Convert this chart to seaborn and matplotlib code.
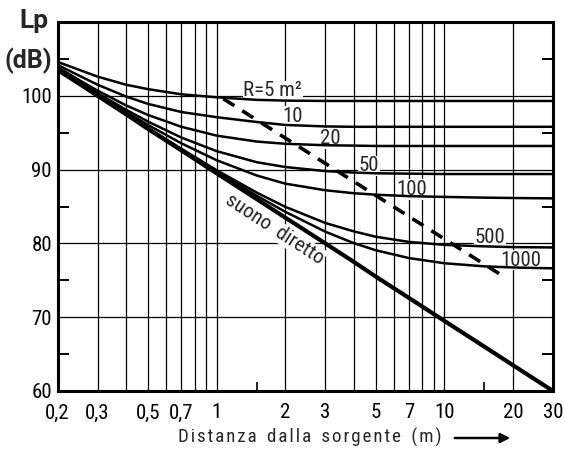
import matplotlib
matplotlib.use("Agg")
import matplotlib.pyplot as plt
from matplotlib.ticker import NullFormatter
import numpy as np
import pandas as pd
import seaborn as sns

# ---- data ----
distance_m = [0.2, 0.25, 0.3, 0.4, 0.5, 0.7, 1, 1.5, 2, 3, 4, 5, 7, 10, 15, 20, 30]
direct_db = [103.5, 101.6, 100.0, 97.5, 95.5, 92.6, 89.5, 86.0, 83.5, 80.0, 77.5, 75.5, 72.6, 69.5, 66.0, 63.5, 60.0]
r5_db = [104.6, 103.5, 102.6, 101.5, 100.9, 100.2, 99.8, 99.45, 99.35, 99.3, 99.3, 99.3, 99.3, 99.3, 99.3, 99.3, 99.3]
r10_db = [104.2, 102.7, 101.5, 99.9, 98.9, 97.8, 97.1, 96.45, 96.05, 95.85, 95.8, 95.8, 95.8, 95.8, 95.8, 95.8, 95.8]
r20_db = [103.9, 102.1, 100.7, 98.7, 97.4, 95.8, 94.6, 93.8, 93.5, 93.3, 93.25, 93.2, 93.2, 93.2, 93.2, 93.2, 93.2]
r50_db = [103.67, 101.82, 100.34, 98.12, 96.5, 94.34, 92.5, 91.0, 90.35, 89.8, 89.6, 89.5, 89.45, 89.4, 89.4, 89.4, 89.4]
r100_db = [103.59, 101.68, 100.16, 97.81, 96.04, 93.56, 91.27, 89.2, 88.1, 87.2, 86.8, 86.6, 86.4, 86.3, 86.2, 86.15, 86.1]
r500_db = [103.52, 101.57, 100.01, 97.54, 95.64, 92.82, 89.92, 86.88, 84.96, 82.77, 81.63, 80.9, 80.2, 79.8, 79.6, 79.5, 79.45]
r1000_db = [103.51, 101.56, 99.99, 97.5, 95.58, 92.72, 89.73, 86.45, 84.29, 81.59, 80.04, 79.07, 78.01, 77.31, 76.89, 76.74, 76.62]

room_constants = ["5", "10", "20", "50", "100", "500", "1000"]
curve_values = [r5_db, r10_db, r20_db, r50_db, r100_db, r500_db, r1000_db]

label_texts = ["R=5 m\u00b2", "10", "20", "50", "100", "500", "1000"]
label_r = [1.31, 1.95, 2.83, 4.2, 6.17, 13.6, 17.7]
label_lp = [100.7, 97.2, 94.2, 90.5, 87.3, 80.75, 77.7]

critical_r = [1.07, 17.6]
critical_db = [99.6, 75.8]

x_tick_values = [0.2, 0.3, 0.5, 0.7, 1, 2, 3, 5, 7, 10, 20, 30]
x_tick_labels = ["0,2", "0,3", "0,5", "0,7", "1", "2", "3", "5", "7", "10", "20", "30"]
x_grid_values = [0.3, 0.4, 0.5, 0.6, 0.7, 0.8, 0.9, 1, 2, 3, 4, 5, 6, 7, 8, 9, 10, 20]
x_short_ticks = [1.5, 15]
y_tick_values = [60, 70, 80, 90, 100]
y_minor_values = [65, 75, 85, 95, 105]

x_title = "Distanza dalla sorgente (m)"

# ---- styling ----
sns.set_style("white")
FONT = ["Roboto Condensed", "DejaVu Sans"]
plt.rcParams["font.family"] = FONT

fig = plt.figure(figsize=(5.65, 4.5), dpi=100)
W, H = 565.0, 450.0
ax = fig.add_axes([57.5 / W, 1 - 391 / H, (553 - 57.5) / W, (391 - 22) / H])

rows = []
for name, vals in zip(room_constants, curve_values):
    for d, v in zip(distance_m, vals):
        rows.append({"R": name, "distance": d, "Lp": v})
df = pd.DataFrame(rows)

sns.lineplot(data=df, x="distance", y="Lp", units="R", estimator=None,
             color="black", lw=1.8, sort=False, ax=ax, zorder=2)
sns.lineplot(x=distance_m, y=direct_db, color="black", lw=3.0, ax=ax, zorder=2.2)
sns.lineplot(x=critical_r, y=critical_db, color="black", lw=2.6,
             linestyle=(0, (3.6, 2.6)), ax=ax, zorder=2.1)

ax.set_xscale("log")
ax.set_xlim(0.2, 30)
ax.set_ylim(60, 110)

ax.set_xticks(x_tick_values)
ax.set_xticklabels(x_tick_labels)
ax.set_xticks(x_grid_values, minor=True)
ax.xaxis.set_minor_formatter(NullFormatter())
ax.set_yticks(y_tick_values)
ax.set_yticks(y_minor_values, minor=True)

ax.tick_params(axis="both", which="major", length=0, labelsize=15, colors="black")
ax.tick_params(axis="x", which="major", pad=9)
ax.tick_params(axis="y", which="major", pad=4)
ax.tick_params(axis="x", which="minor", length=0)
ax.tick_params(axis="y", which="minor", direction="in", length=8, width=1.4,
               left=True, right=True, color="black")

ax.set_axisbelow(True)
ax.grid(which="both", axis="x", color="black", lw=0.9)
ax.grid(which="major", axis="y", color="black", lw=0.9)

ax.vlines(x_short_ticks, 0, 0.025, transform=ax.get_xaxis_transform(),
          color="black", lw=1.2)

for s in ax.spines.values():
    s.set_visible(True)
    s.set_color("black")
    s.set_linewidth(2.2)

ax.set_xlabel("")
ax.set_ylabel("")

for t, xr, yl in zip(label_texts, label_r, label_lp):
    ax.text(xr, yl, t, fontsize=15, ha="left", va="center", zorder=1.5,
            bbox=dict(facecolor="white", edgecolor="none", pad=0.5))

ax.text(1.8, 81.9, "suono\u2009 diretto", fontsize=15, rotation=-33,
        rotation_mode="anchor", ha="center", va="center", zorder=1.5,
        bbox=dict(facecolor="white", edgecolor="none", pad=0.5))

fig.text(34 / W, 1 - 21 / H, "Lp", fontsize=19, fontweight="bold",
         family=["Roboto", "DejaVu Sans"], ha="center", va="center")
fig.text(28 / W, 1 - 61 / H, "(dB)", fontsize=18, fontweight="bold",
         family=["Roboto", "DejaVu Sans"], ha="center", va="center")

# x title: cap height ~13 px, width ~266 px in the reference
renderer = fig.canvas.get_renderer()
target_w = 266.0
best = None
for sep in ["", "\u200a"]:
    s = sep.join(x_title).replace(" ", " " + sep) if sep else x_title
    tt = fig.text(0, 0, s, fontsize=13.2)
    w = tt.get_window_extent(renderer=renderer).width
    tt.remove()
    if best is None or abs(w - target_w) < abs(best[1] - target_w):
        best = (s, w)
fs = 13.2 * min(1.08, max(0.92, target_w / best[1]))
fig.text(310 / W, 1 - 437 / H, best[0], fontsize=fs, ha="center", va="center")

fig.add_artist(matplotlib.patches.FancyArrowPatch(
    (452 / W, 1 - 438 / H), (513 / W, 1 - 438 / H), transform=fig.transFigure,
    arrowstyle="-|>", mutation_scale=14, lw=1.8, color="black"))

fig.savefig("out.png", dpi=100, facecolor="white")
